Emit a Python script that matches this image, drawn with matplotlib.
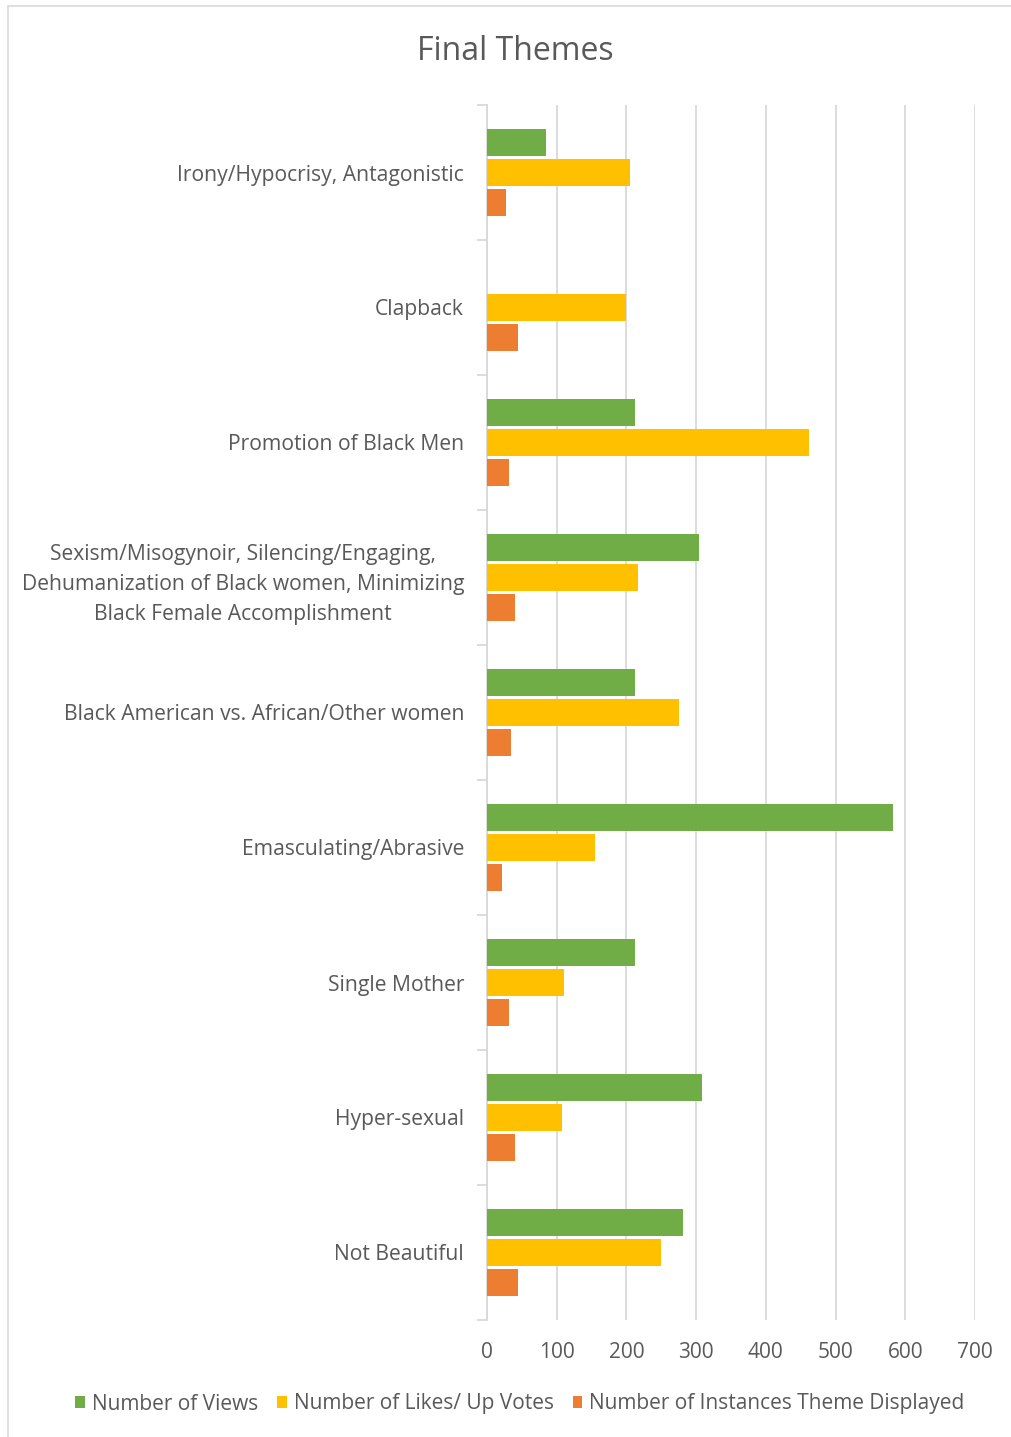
import matplotlib
matplotlib.use("Agg")
import matplotlib.pyplot as plt
import numpy as np
from matplotlib.patches import Rectangle

categories = [
    "Irony/Hypocrisy, Antagonistic",
    "Clapback",
    "Promotion of Black Men",
    "Sexism/Misogynoir, Silencing/Engaging,\nDehumanization of Black women, Minimizing\nBlack Female Accomplishment",
    "Black American vs. African/Other women",
    "Emasculating/Abrasive",
    "Single Mother",
    "Hyper-sexual",
    "Not Beautiful",
]
views = [84, 0, 212, 304, 212, 583, 212, 308, 281]
likes = [205, 200, 462, 216, 275, 155, 110, 107, 249]
instances = [27, 44, 32, 40, 34, 21, 31, 40, 45]
series_names = ["Number of Views", "Number of Likes/ Up Votes", "Number of Instances Theme Displayed"]
colors = ["#70AD47", "#FFC000", "#ED7D31"]
xticks = [0, 100, 200, 300, 400, 500, 600, 700]

plt.rcParams['font.family'] = ['Open Sans', 'DejaVu Sans']
txt = "#595959"

fig = plt.figure(figsize=(10.12, 14.37), dpi=100)
ax = fig.add_axes([487/1012, 1-1320/1437, (975-487)/1012, (1320-105)/1437])

y = np.arange(len(categories))
off = 0.222
h = 0.195
for vals, dy, c, name in zip([views, likes, instances], [-off, 0, off], colors, series_names):
    ax.barh(y + dy, vals, height=h, color=c, label=name, zorder=3)

ax.set_xlim(0, 700)
ax.set_ylim(len(categories) - 0.5, -0.5)
ax.set_xticks(xticks)
ax.set_xticklabels([str(t) for t in xticks], color=txt, fontsize=15)
ax.tick_params(axis='x', length=0, pad=16)
ax.grid(axis='x', color='#D9D9D9', linewidth=1.3, zorder=0)

ax.set_yticks(y)
labels = ax.set_yticklabels(categories, color=txt, fontsize=15.2, linespacing=1.58)
for lb in labels:
    lb.set_multialignment('center')
ax.tick_params(axis='y', length=0, pad=16.5)
ax.set_yticks(np.arange(len(categories) + 1) - 0.5, minor=True)
ax.tick_params(axis='y', which='minor', length=7, color='#D9D9D9', width=1.3)

for s in ['top', 'right', 'bottom']:
    ax.spines[s].set_visible(False)
ax.spines['left'].set_color('#D9D9D9')
ax.spines['left'].set_linewidth(1.3)

fig.text(515/1012, 1-52/1437, "Final Themes", ha='center', va='center', fontsize=23, color=txt)

leg = fig.legend(loc='center', bbox_to_anchor=(520/1012, 1-1404/1437), ncol=3, frameon=False,
                 fontsize=15, handlelength=0.45, handleheight=0.45, handletextpad=0.35,
                 columnspacing=0.9, labelcolor=txt)

fig.patches.append(Rectangle((8/1012, -0.01), 1.1, 1-6/1437 + 0.01, transform=fig.transFigure,
                             fill=False, edgecolor='#D9D9D9', linewidth=1.2))

fig.savefig("out.png", dpi=100)
